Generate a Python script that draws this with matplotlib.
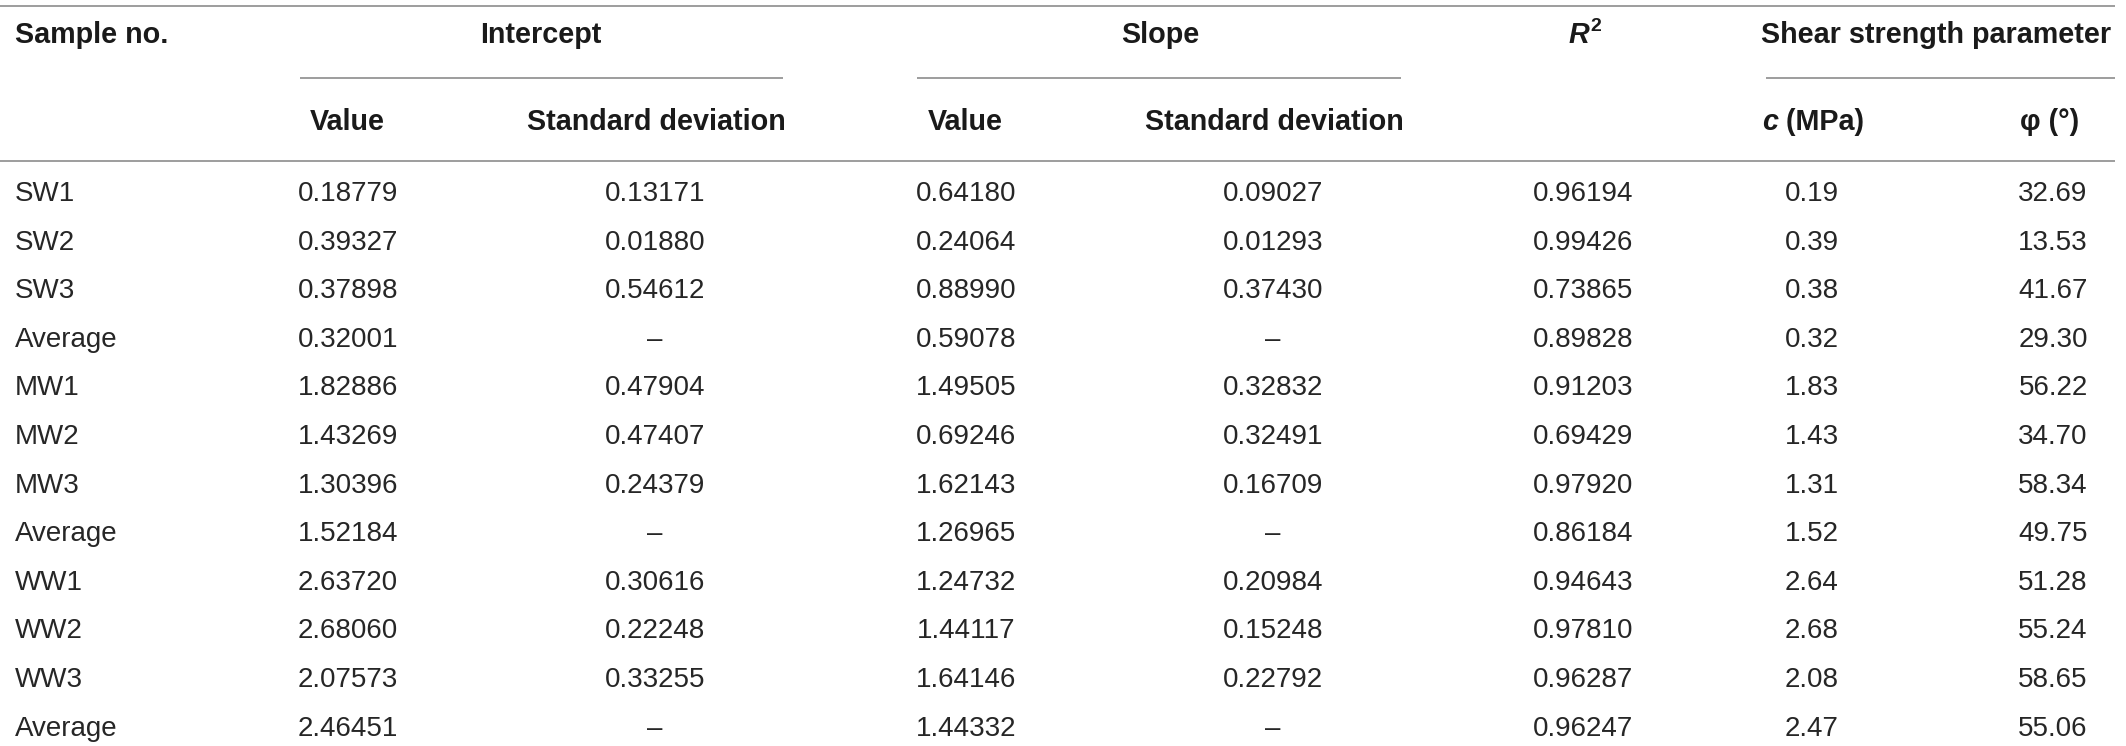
import matplotlib
matplotlib.use('Agg')
import matplotlib.pyplot as plt

# ---------------- data ----------------
samples = ['SW1', 'SW2', 'SW3', 'Average', 'MW1', 'MW2', 'MW3', 'Average',
           'WW1', 'WW2', 'WW3', 'Average']
intercept_value = [0.18779, 0.39327, 0.37898, 0.32001, 1.82886, 1.43269, 1.30396,
                   1.52184, 2.63720, 2.68060, 2.07573, 2.46451]
intercept_sd = [0.13171, 0.01880, 0.54612, None, 0.47904, 0.47407, 0.24379, None,
                0.30616, 0.22248, 0.33255, None]
slope_value = [0.64180, 0.24064, 0.88990, 0.59078, 1.49505, 0.69246, 1.62143,
               1.26965, 1.24732, 1.44117, 1.64146, 1.44332]
slope_sd = [0.09027, 0.01293, 0.37430, None, 0.32832, 0.32491, 0.16709, None,
            0.20984, 0.15248, 0.22792, None]
r_squared = [0.96194, 0.99426, 0.73865, 0.89828, 0.91203, 0.69429, 0.97920,
             0.86184, 0.94643, 0.97810, 0.96287, 0.96247]
cohesion = [0.19, 0.39, 0.38, 0.32, 1.83, 1.43, 1.31, 1.52, 2.64, 2.68, 2.08, 2.47]
friction = [32.69, 13.53, 41.67, 29.30, 56.22, 34.70, 58.34, 49.75, 51.28, 55.24,
            58.65, 55.06]

group_headers = ['Intercept', 'Slope']
sub_headers = ['Value', 'Standard deviation', 'Value', 'Standard deviation']

# ---------------- layout ----------------
W, H = 2126, 746
fig = plt.figure(figsize=(W / 100, H / 100), dpi=100)
ax = fig.add_axes([0, 0, 1, 1])
ax.set_xlim(0, W)
ax.set_ylim(H, 0)
ax.axis('off')

FONT = 'Liberation Sans'
TXT = '#262626'
body = dict(family=FONT, size=20, color=TXT)
head = dict(family=FONT, size=20.7, weight='bold', color='#1a1a1a')
LINE = '#8c8c8c'
LW = 1.2

table_right = 2115
y_top = 6
y_group_rule = 78
y_head_rule = 161
y_head1 = 43
y_head2 = 130
y_row0 = 201
row_step = 48.6

# rules
ax.plot([0, table_right], [y_top, y_top], color=LINE, lw=LW, solid_capstyle='butt')
ax.plot([0, table_right], [y_head_rule, y_head_rule], color=LINE, lw=LW,
        solid_capstyle='butt')
for x0, x1 in [(300, 783), (917, 1401), (1766, table_right)]:
    ax.plot([x0, x1], [y_group_rule, y_group_rule], color=LINE, lw=LW,
            solid_capstyle='butt')

# header row 1
ax.text(15, y_head1, 'Sample no.', ha='left', va='baseline', **head)
ax.text(541, y_head1, group_headers[0], ha='center', va='baseline', **head)
ax.text(1160, y_head1, group_headers[1], ha='center', va='baseline', **head)
ax.text(1761, y_head1, 'Shear strength parameter', ha='left', va='baseline', **head)

fig.canvas.draw()
renderer = fig.canvas.get_renderer()


def width_px(t):
    return t.get_window_extent(renderer=renderer).width


# R^2 : italic bold R with superscript 2
tR = ax.text(0, y_head1, 'R', ha='left', va='baseline', style='italic', **head)
t2 = ax.text(0, y_head1 - 12, '2', ha='left', va='baseline',
             **{**head, 'size': 14})
wR, w2 = width_px(tR), width_px(t2)
x_left = 1584 - (wR + w2) / 2
tR.set_x(x_left)
t2.set_x(x_left + wR + 1)

# header row 2
for txt, x in zip(sub_headers, [347, 656, 965, 1274]):
    ax.text(x, y_head2, txt, ha='center', va='baseline', **head)

tc = ax.text(0, y_head2, 'c', ha='left', va='baseline', style='italic', **head)
tm = ax.text(0, y_head2, ' (MPa)', ha='left', va='baseline', **head)
wc, wm = width_px(tc), width_px(tm)
x_left = 1813 - (wc + wm) / 2
tc.set_x(x_left)
tm.set_x(x_left + wc)

ax.text(2050, y_head2, 'φ (°)', ha='center', va='baseline', **head)

# body
columns = [
    (intercept_value, 5, 348),
    (intercept_sd, 5, 655),
    (slope_value, 5, 966),
    (slope_sd, 5, 1273),
    (r_squared, 5, 1583),
    (cohesion, 2, 1812),
    (friction, 2, 2053),
]

for i, name in enumerate(samples):
    y = y_row0 + i * row_step
    ax.text(15, y, name, ha='left', va='baseline', **body)
    for vals, dec, x in columns:
        v = vals[i]
        s = '–' if v is None else f'{v:.{dec}f}'
        ax.text(x, y, s, ha='center', va='baseline', **body)

fig.savefig('out.png', dpi=100)
